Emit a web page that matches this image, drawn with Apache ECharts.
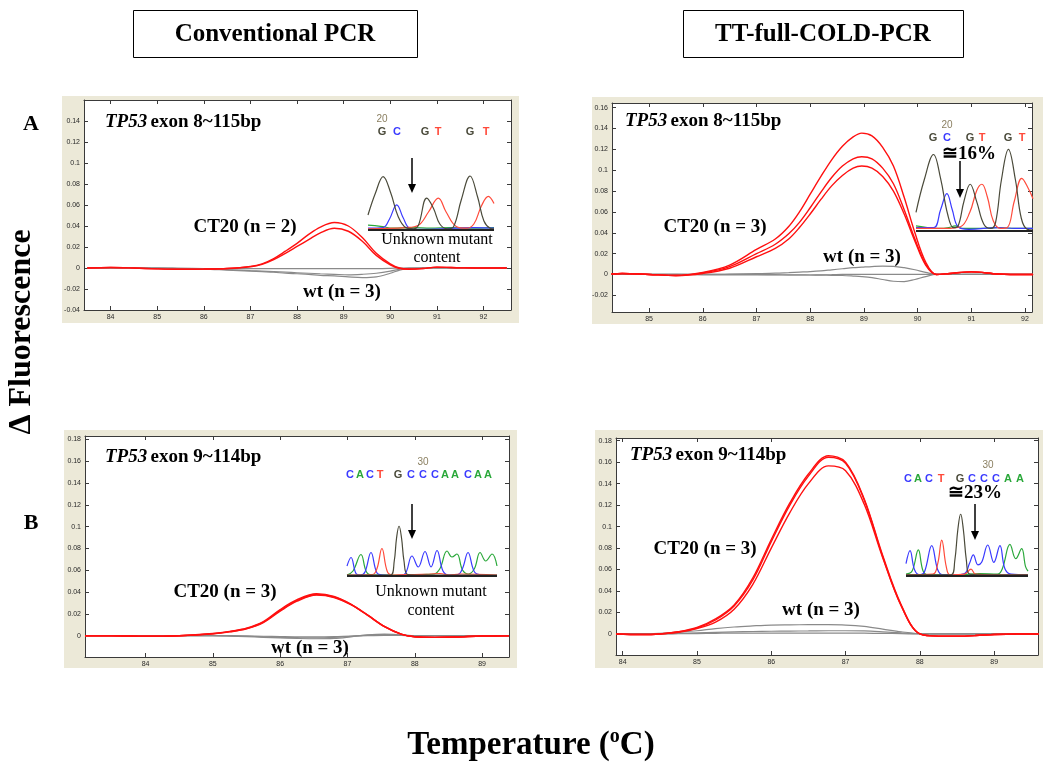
<!DOCTYPE html>
<html><head><meta charset="utf-8">
<script src="https://cdn.jsdelivr.net/npm/echarts@6/dist/echarts.min.js"></script>
<style>html,body{margin:0;padding:0;background:#fff}#c{width:1050px;height:762px}</style>
</head><body><div id="c"></div>
<script>
// ===== DATA =====
// Panel A (left): Conventional PCR, TP53 exon 8
const aLeftTemp = [83.5, 84, 84.5, 85, 85.5, 86, 86.5, 87, 87.25, 87.5, 87.75, 88, 88.25, 88.5, 88.8, 89.1, 89.4, 89.7, 90, 90.2, 90.4, 90.7, 91, 91.5, 92, 92.5];
const aLeftCT20_1 = [0, 0.0005, 0, -0.0008, -0.0012, -0.001, -0.0005, 0.0015, 0.004, 0.009, 0.016, 0.0235, 0.032, 0.039, 0.0433, 0.040, 0.029, 0.014, 0.004, 0.0, -0.001, -0.0005, 0.0008, 0.0003, 0, 0];
const aLeftCT20_2 = [0, 0.0005, 0, -0.0008, -0.0012, -0.001, -0.0005, 0.0012, 0.0035, 0.008, 0.014, 0.0205, 0.027, 0.0335, 0.0378, 0.035, 0.0255, 0.012, 0.003, -0.0005, -0.0012, -0.0005, 0.0008, 0.0003, 0, 0];
const aLeftWt_1 = [0, 0, 0, 0, -0.0003, -0.0005, -0.0005, -0.0005, -0.0005, -0.0005, -0.0005, -0.0005, -0.0005, -0.0005, -0.0005, -0.0005, -0.0005, -0.0005, -0.0003, 0, 0, 0, 0, 0, 0, 0];
const aLeftWt_2 = [0, 0, 0, 0, -0.0003, -0.0008, -0.0015, -0.0025, -0.003, -0.0035, -0.004, -0.0045, -0.005, -0.0055, -0.006, -0.0065, -0.006, -0.005, -0.003, -0.001, 0, 0, 0, 0, 0, 0];
const aLeftWt_3 = [0, 0, 0, 0, -0.0005, -0.001, -0.002, -0.003, -0.0035, -0.004, -0.005, -0.0055, -0.006, -0.007, -0.0075, -0.0085, -0.0092, -0.0085, -0.005, -0.002, -0.0003, 0, 0, 0, 0, 0];
const aLeftXTicks = [84, 85, 86, 87, 88, 89, 90, 91, 92];
const aLeftYTicks = [-0.04, -0.02, 0, 0.02, 0.04, 0.06, 0.08, 0.1, 0.12, 0.14];

// Panel A (right): TT-full-COLD-PCR, TP53 exon 8
const aRightTemp = [84.3, 84.5, 85, 85.5, 86, 86.5, 87, 87.35, 87.6, 87.8, 88, 88.2, 88.4, 88.6, 88.8, 88.96, 89.15, 89.35, 89.55, 89.75, 89.95, 90.15, 90.35, 90.6, 91, 91.5, 92, 92.15];
const aRightCT20_1 = [0.0005, 0.001, 0, -0.001, 0.002, 0.009, 0.024, 0.034, 0.046, 0.06, 0.077, 0.094, 0.11, 0.123, 0.132, 0.1356, 0.133, 0.122, 0.104, 0.074, 0.04, 0.012, 0, 0.001, 0.0025, 0.0005, 0, 0];
const aRightCT20_2 = [0.0005, 0.001, 0, -0.001, 0.0015, 0.0075, 0.02, 0.029, 0.039, 0.05, 0.064, 0.079, 0.093, 0.104, 0.111, 0.113, 0.111, 0.102, 0.087, 0.062, 0.034, 0.01, 0, 0.001, 0.0025, 0.0005, 0, 0];
const aRightCT20_3 = [0.0005, 0.001, 0, -0.001, 0.001, 0.006, 0.017, 0.025, 0.034, 0.045, 0.058, 0.072, 0.085, 0.095, 0.102, 0.104, 0.102, 0.094, 0.08, 0.058, 0.032, 0.009, 0, 0.001, 0.0025, 0.0005, 0, 0];
const aRightWt_1 = [0, 0, 0, 0, 0, 0.0003, 0.0008, 0.0012, 0.0018, 0.0023, 0.0028, 0.0035, 0.0045, 0.0055, 0.0065, 0.007, 0.0076, 0.008, 0.0078, 0.0065, 0.0045, 0.002, 0, 0, 0, 0, 0, 0];
const aRightWt_2 = [0, 0, 0, 0, -0.0003, -0.0005, -0.0005, -0.0005, -0.0005, -0.0005, -0.0005, -0.0003, -0.0002, 0, 0, 0, 0, 0, 0, 0, 0, 0, 0, 0, 0, 0, 0, 0];
const aRightWt_3 = [0, 0, 0, 0, 0, 0, 0, -0.0002, -0.0003, -0.0004, -0.0005, -0.0006, -0.0008, -0.001, -0.0015, -0.002, -0.003, -0.0048, -0.0065, -0.0068, -0.0048, -0.002, 0, 0, 0, 0, 0, 0];
const aRightXTicks = [85, 86, 87, 88, 89, 90, 91, 92];
const aRightYTicks = [-0.02, 0, 0.02, 0.04, 0.06, 0.08, 0.1, 0.12, 0.14, 0.16];

// Panel B (left): Conventional PCR, TP53 exon 9
const bLeftTemp = [83.1, 83.5, 84, 84.5, 85, 85.25, 85.5, 85.75, 86, 86.25, 86.54, 86.8, 87.05, 87.3, 87.55, 87.8, 88, 88.3, 88.6, 89, 89.4];
const bLeftCT20_1 = [0, 0, -0.0005, 0, 0.002, 0.004, 0.007, 0.013, 0.024, 0.033, 0.0384, 0.036, 0.029, 0.019, 0.0085, 0.0015, -0.001, -0.0015, -0.0012, -0.0003, 0];
const bLeftCT20_2 = [0, 0, -0.0005, 0, 0.0018, 0.0037, 0.0066, 0.0125, 0.0232, 0.0322, 0.0377, 0.0355, 0.0287, 0.0188, 0.0084, 0.0014, -0.001, -0.0015, -0.0012, -0.0003, 0];
const bLeftCT20_3 = [0, 0, -0.0005, 0, 0.0017, 0.0035, 0.0063, 0.012, 0.0225, 0.0316, 0.0372, 0.035, 0.0284, 0.0186, 0.0083, 0.0013, -0.001, -0.0015, -0.0012, -0.0003, 0];
const bLeftWt_1 = [0, 0, 0, 0, 0, -0.0003, -0.0008, -0.0015, -0.002, -0.0025, -0.0028, -0.0025, -0.001, 0.0008, 0.0015, 0.0008, 0, 0, 0, 0, 0];
const bLeftWt_2 = [0, 0, 0, 0, 0, -0.0002, -0.0005, -0.001, -0.0015, -0.0018, -0.002, -0.0015, -0.0005, 0.0005, 0.001, 0.0005, 0, 0, 0, 0, 0];
const bLeftWt_3 = [0, 0, 0, 0, 0, 0, -0.0002, -0.0005, -0.0008, -0.001, -0.001, -0.0008, -0.0003, 0, 0.0003, 0.0002, 0, 0, 0, 0, 0];
const bLeftXTicks = [84, 85, 86, 87, 88, 89];
const bLeftYTicks = [0, 0.02, 0.04, 0.06, 0.08, 0.1, 0.12, 0.14, 0.16, 0.18];

// Panel B (right): TT-full-COLD-PCR, TP53 exon 9
const bRightTemp = [83.91, 84.25, 84.5, 84.75, 85, 85.25, 85.5, 85.75, 86, 86.25, 86.5, 86.77, 87, 87.25, 87.5, 87.75, 88, 88.25, 88.5, 88.75, 89, 89.3, 89.6];
const bRightCT20_1 = [0, -0.0005, 0, 0.002, 0.006, 0.014, 0.027, 0.052, 0.088, 0.122, 0.149, 0.166, 0.16, 0.126, 0.073, 0.027, 0, -0.002, -0.002, -0.0015, -0.0005, 0, 0];
const bRightCT20_2 = [0, -0.0005, 0, 0.002, 0.0055, 0.013, 0.026, 0.05, 0.086, 0.12, 0.147, 0.1646, 0.159, 0.125, 0.072, 0.026, 0, -0.002, -0.002, -0.0015, -0.0005, 0, 0];
const bRightCT20_3 = [0, -0.0005, 0, 0.0015, 0.005, 0.011, 0.023, 0.046, 0.08, 0.113, 0.14, 0.1565, 0.152, 0.121, 0.071, 0.026, 0, -0.002, -0.002, -0.0015, -0.0005, 0, 0];
const bRightWt_1 = [0, 0, 0.0005, 0.0015, 0.003, 0.005, 0.0065, 0.0075, 0.0083, 0.0085, 0.0086, 0.0086, 0.0083, 0.007, 0.0045, 0.002, 0.0003, 0, 0, 0, 0, 0, 0];
const bRightWt_2 = [0, 0, 0.0002, 0.0006, 0.001, 0.0015, 0.002, 0.0023, 0.0025, 0.0027, 0.0028, 0.003, 0.003, 0.0028, 0.002, 0.001, 0.0002, 0, 0, 0, 0, 0, 0];
const bRightWt_3 = [0, 0, 0, 0.0002, 0.0004, 0.0006, 0.0008, 0.0008, 0.0008, 0.0008, 0.0008, 0.0008, 0.0008, 0.0007, 0.0005, 0.0003, 0, 0, 0, 0, 0, 0, 0];
const bRightXTicks = [84, 85, 86, 87, 88, 89];
const bRightYTicks = [0, 0.02, 0.04, 0.06, 0.08, 0.1, 0.12, 0.14, 0.16, 0.18];

// Sequencing chromatogram insets: [position (0-100 of inset width), signal (0-100)]
const seqA1_G = [[0,25],[6,62],[12,89],[18,62],[24,22],[30,4],[36,2],[40,8],[46.6,53],[52,36],[57,10],[63,2],[68,6],[74,50],[81,90],[87,55],[92,15],[97,3],[100,2]];
const seqA1_C = [[0,3],[12,4],[17,18],[22.8,42],[28,20],[33,3],[40,1],[70,3],[85,4],[100,3]];
const seqA1_T = [[0,2],[30,4],[40,8],[48,30],[55.8,53],[62,30],[70,6],[78,3],[84,10],[90,40],[95.5,56],[100,44]];
const seqA1_A = [[0,8],[10,6],[20,3],[35,4],[50,3],[65,4],[80,3],[100,4]];
const seqA2_G = [[0,22],[7,60],[15,90],[21,62],[27,20],[32,4],[36,6],[41,35],[46.3,55],[52,34],[58,8],[64,3],[68,10],[73,60],[79,96],[85,60],[90,15],[95,2],[100,1]];
const seqA2_C = [[0,4],[15,4],[21,25],[26.4,44],[31,25],[36,5],[45,2],[70,4],[85,3],[100,3]];
const seqA2_T = [[0,3],[25,3],[38,5],[46,22],[52,48],[56.3,55],[61,40],[66,12],[72,3],[78,4],[84,35],[90.4,62],[96,50],[100,38]];
const seqA2_A = [[0,6],[20,3],[28,4],[33.5,6],[40,3],[55,3],[70,4],[85,3],[100,3]];
const seqB1_C = [[0,20],[2.7,37],[6,5],[9,2],[12,8],[16,47],[20,6],[24,2],[30,1],[38,3],[43.3,40],[47.5,18],[52,49],[56,18],[60,51],[64,10],[68,2],[74,3],[77,15],[80.7,47],[85,8],[90,2],[100,1]];
const seqB1_A = [[0,2],[4,10],[9.3,43],[13,8],[17,2],[40,2],[50,3],[58,4],[62,15],[66.7,50],[70,38],[73.3,44],[77,12],[81,4],[85,15],[88.7,47],[92.5,30],[96.7,44],[100,20]];
const seqB1_T = [[0,2],[17,3],[20,15],[23.3,55],[27,8],[31,2],[45,3],[55,4],[62,5],[68,2],[75,4],[100,2]];
const seqB1_G = [[0,2],[29,2],[31.5,30],[33,75],[34.7,100],[36.4,75],[38,30],[40.5,3],[50,2],[100,2]];
const seqB2_C = [[0,20],[3.3,41],[7,10],[11,2],[15,6],[21.1,49],[26,10],[30,2],[40,2],[48,4],[52,20],[55.2,34],[59,18],[62,22],[67,50],[72,22],[77,49],[81,12],[86,3],[100,2]];
const seqB2_A = [[0,3],[5,8],[10.1,42],[14,8],[18,2],[45,2],[60,4],[75,3],[79,12],[85.2,51],[90,28],[94.8,44],[98,15],[100,8]];
const seqB2_T = [[0,2],[22,3],[26,20],[29.3,58],[33,15],[36,2],[48,3],[53.3,11],[57,3],[70,2],[100,2]];
const seqB2_G = [[0,2],[37,2],[40,25],[42.5,75],[44.8,100],[47,75],[49.5,25],[52,3],[60,2],[100,2]];
const seqA1_letters = ['G','C','G','T','G','T'];
const seqA2_letters = ['G','C','G','T','G','T'];
const seqB1_letters = ['C','A','C','T','G','C','C','C','A','A','C','A','A'];
const seqB2_letters = ['C','A','C','T','G','C','C','C','A','A'];

// ===== LAYOUT / STYLE =====
const SERIF = 'Liberation Serif';
const SANS = 'Liberation Sans';
const RED = '#ff1010', GRAY = '#8a8a8a';
const BASE_COL = {G:'#4a4a3a', C:'#3a3aff', T:'#ff4a3a', A:'#2aa83a'};

const panels = [
  {grid:{left:84, top:100, width:427, height:210}, x:[83.43,92.59], y:[-0.04,0.16], xt:aLeftXTicks, yt:aLeftYTicks,
   temp:aLeftTemp, red:[aLeftCT20_1,aLeftCT20_2], gray:[aLeftWt_1,aLeftWt_2,aLeftWt_3]},
  {grid:{left:612, top:103, width:420, height:209}, x:[84.31,92.13], y:[-0.036,0.1645], xt:aRightXTicks, yt:aRightYTicks,
   temp:aRightTemp, red:[aRightCT20_1,aRightCT20_2,aRightCT20_3], gray:[aRightWt_1,aRightWt_2,aRightWt_3]},
  {grid:{left:85, top:436, width:424, height:221}, x:[83.10,89.40], y:[-0.0195,0.183], xt:bLeftXTicks, yt:bLeftYTicks,
   temp:bLeftTemp, red:[bLeftCT20_1,bLeftCT20_2,bLeftCT20_3], gray:[bLeftWt_1,bLeftWt_2,bLeftWt_3]},
  {grid:{left:616, top:438, width:422, height:217}, x:[83.91,89.59], y:[-0.0196,0.1825], xt:bRightXTicks, yt:bRightYTicks,
   temp:bRightTemp, red:[bRightCT20_1,bRightCT20_2,bRightCT20_3], gray:[bRightWt_1,bRightWt_2,bRightWt_3]}
];

const insets = [
  {left:368, top:170, width:126, H:60, traces:[[seqA1_A,BASE_COL.A],[seqA1_C,BASE_COL.C],[seqA1_T,BASE_COL.T],[seqA1_G,BASE_COL.G]]},
  {left:916, top:146, width:117, H:85, traces:[[seqA2_A,BASE_COL.A],[seqA2_C,BASE_COL.C],[seqA2_T,BASE_COL.T],[seqA2_G,BASE_COL.G]]},
  {left:347, top:526, width:150, H:50, traces:[[seqB1_A,BASE_COL.A],[seqB1_C,BASE_COL.C],[seqB1_T,BASE_COL.T],[seqB1_G,BASE_COL.G]]},
  {left:906, top:514, width:122, H:62, traces:[[seqB2_A,BASE_COL.A],[seqB2_C,BASE_COL.C],[seqB2_T,BASE_COL.T],[seqB2_G,BASE_COL.G]]}
];

const grids = [], xAxes = [], yAxes = [], series = [];
const axLine = {show:true, onZero:false, lineStyle:{color:'#3a3a3a', width:1}};
panels.forEach((p, i) => {
  grids.push(Object.assign({show:true, backgroundColor:'#ffffff', borderWidth:0}, p.grid));
  const tickStyle = {inside:true, length:4, lineStyle:{color:'#3a3a3a'}};
  xAxes.push({gridIndex:i, type:'value', position:'bottom', min:p.x[0], max:p.x[1], axisLine:axLine,
    axisTick:Object.assign({customValues:p.xt}, tickStyle),
    axisLabel:{customValues:p.xt, fontSize:7, color:'#2a2a2a', margin:4, fontFamily:SANS},
    splitLine:{show:false}});
  xAxes.push({gridIndex:i, type:'value', position:'top', min:p.x[0], max:p.x[1], axisLine:axLine,
    axisTick:Object.assign({customValues:p.xt}, tickStyle), axisLabel:{show:false}, splitLine:{show:false}});
  yAxes.push({gridIndex:i, type:'value', position:'left', min:p.y[0], max:p.y[1], axisLine:axLine,
    axisTick:Object.assign({customValues:p.yt}, tickStyle),
    axisLabel:{customValues:p.yt, fontSize:7, color:'#2a2a2a', margin:4, fontFamily:SANS},
    splitLine:{show:false}});
  yAxes.push({gridIndex:i, type:'value', position:'right', min:p.y[0], max:p.y[1], axisLine:axLine,
    axisTick:Object.assign({customValues:p.yt}, tickStyle), axisLabel:{show:false}, splitLine:{show:false}});
  p.gray.forEach(arr => series.push({type:'line', xAxisIndex:2*i, yAxisIndex:2*i, smooth:0.35, showSymbol:false, silent:true,
    data:p.temp.map((t,k)=>[t,arr[k]]), lineStyle:{color:GRAY, width:1.2}, z:2}));
  p.red.forEach(arr => series.push({type:'line', xAxisIndex:2*i, yAxisIndex:2*i, smooth:0.35, showSymbol:false, silent:true,
    data:p.temp.map((t,k)=>[t,arr[k]]), lineStyle:{color:RED, width:1.4}, z:3}));
});
insets.forEach((s, j) => {
  const gi = panels.length + j;
  const ax = 2*panels.length + j;
  grids.push({left:s.left, top:s.top, width:s.width, height:s.H*1.06, show:false});
  xAxes.push({gridIndex:gi, type:'value', min:0, max:100, show:false});
  yAxes.push({gridIndex:gi, type:'value', min:-6, max:100, show:false});
  s.traces.forEach(tr => series.push({type:'line', xAxisIndex:ax, yAxisIndex:ax, smooth:0.4, showSymbol:false, silent:true,
    data:tr[0], lineStyle:{color:tr[1], width:1.2}, z:4}));
  series.push({type:'line', xAxisIndex:ax, yAxisIndex:ax, showSymbol:false, silent:true,
    data:[[0,0],[100,0]], lineStyle:{color:'#222', width:1.8}, z:5});
});

// ===== ANNOTATIONS =====
const g = [];
[[62,96,457,227],[592,97,451,227],[64,430,453,238],[595,430,448,238]].forEach(r =>
  g.push({type:'rect', z:-10, shape:{x:r[0],y:r[1],width:r[2],height:r[3]}, style:{fill:'#ECE9D8'}}));
// header boxes
[[133,10,284,47,'Conventional PCR'],[683,10,280,47,'TT-full-COLD-PCR']].forEach(b => {
  g.push({type:'rect', shape:{x:b[0]+0.5,y:b[1]+0.5,width:b[2],height:b[3]}, style:{fill:'#fff', stroke:'#000', lineWidth:1}});
  g.push({type:'text', x:b[0]+b[2]/2, y:b[1]+b[3]/2+1, style:{text:b[4], font:'bold 25px '+SERIF, fill:'#000', align:'center', verticalAlign:'middle'}});
});
g.push({type:'text', x:31, y:124, style:{text:'A', font:'bold 22px '+SERIF, fill:'#000', align:'center', verticalAlign:'middle'}});
g.push({type:'text', x:31, y:523, style:{text:'B', font:'bold 22px '+SERIF, fill:'#000', align:'center', verticalAlign:'middle'}});
g.push({type:'text', x:22, y:332, rotation:Math.PI/2, style:{text:'Δ Fluorescence', font:'bold 32px '+SERIF, fill:'#000', align:'center', verticalAlign:'middle'}});
g.push({type:'text', x:531, y:745, style:{text:'{a|Temperature (}{s|o}{a|C)}', align:'center', verticalAlign:'middle',
  rich:{a:{font:'bold 33px '+SERIF, fill:'#000', lineHeight:40}, s:{font:'bold 20px '+SERIF, fill:'#000', lineHeight:40, padding:[0,0,16,0]}}}});
// gene labels
[[105,122,'exon 8~115bp'],[625,121,'exon 8~115bp'],[105,457,'exon 9~114bp'],[630,455,'exon 9~114bp']].forEach(t =>
  g.push({type:'text', x:t[0], y:t[1], style:{text:'{i|TP53} {b|'+t[2]+'}', align:'left', verticalAlign:'middle',
    rich:{i:{font:'italic bold 19px '+SERIF, fill:'#000'}, b:{font:'bold 19px '+SERIF, fill:'#000'}}}}));
// group labels
[[245,227,'CT20 (n = 2)'],[342,292,'wt (n = 3)'],[715,227,'CT20 (n = 3)'],[862,257,'wt (n = 3)'],
 [225,592,'CT20 (n = 3)'],[310,648,'wt (n = 3)'],[705,549,'CT20 (n = 3)'],[821,610,'wt (n = 3)'],
 [969,154,'≅16%'],[975,493,'≅23%']].forEach(t =>
  g.push({type:'text', x:t[0], y:t[1], style:{text:t[2], font:'bold 19px '+SERIF, fill:'#000', align:'center', verticalAlign:'middle'}}));
[[437,240,'Unknown mutant'],[437,258,'content'],[431,592,'Unknown mutant'],[431,611,'content']].forEach(t =>
  g.push({type:'text', x:t[0], y:t[1], style:{text:t[2], font:'16px '+SERIF, fill:'#000', align:'center', verticalAlign:'middle'}}));
// arrows
[[412,158,193],[960,161,198],[412,504,539],[975,504,540]].forEach(a => {
  g.push({type:'line', shape:{x1:a[0],y1:a[1],x2:a[0],y2:a[2]-6}, style:{stroke:'#000', lineWidth:1.5}});
  g.push({type:'polygon', shape:{points:[[a[0]-4,a[2]-9],[a[0]+4,a[2]-9],[a[0],a[2]]]}, style:{fill:'#000'}});
});
// sequence letters
const letterRows = [
  {letters:seqA1_letters, xs:[382,397,425,438,470,486], y:132, num:'20', nx:382, ny:119},
  {letters:seqA2_letters, xs:[933,947,970,982,1008,1022], y:138, num:'20', nx:947, ny:125},
  {letters:seqB1_letters, xs:[350,360,370,380,398,411,423,435,445,455,468,478,488], y:475, num:'30', nx:423, ny:462},
  {letters:seqB2_letters, xs:[908,918,929,941,960,972,984,996,1008,1020], y:479, num:'30', nx:988, ny:465}
];
letterRows.forEach(r => {
  r.letters.forEach((L,k) => g.push({type:'text', x:r.xs[k], y:r.y, style:{text:L, font:'bold 11px '+SANS, fill:BASE_COL[L], align:'center', verticalAlign:'middle'}}));
  g.push({type:'text', x:r.nx, y:r.ny, style:{text:r.num, font:'10px '+SANS, fill:'#8a7f60', align:'center', verticalAlign:'middle'}});
});

const chart = echarts.init(document.getElementById('c'), null, {renderer:'canvas', width:1050, height:762});
chart.setOption({
  animation:false,
  backgroundColor:'#ffffff',
  grid:grids, xAxis:xAxes, yAxis:yAxes, series:series,
  graphic:{elements:g}
});
</script></body></html>
